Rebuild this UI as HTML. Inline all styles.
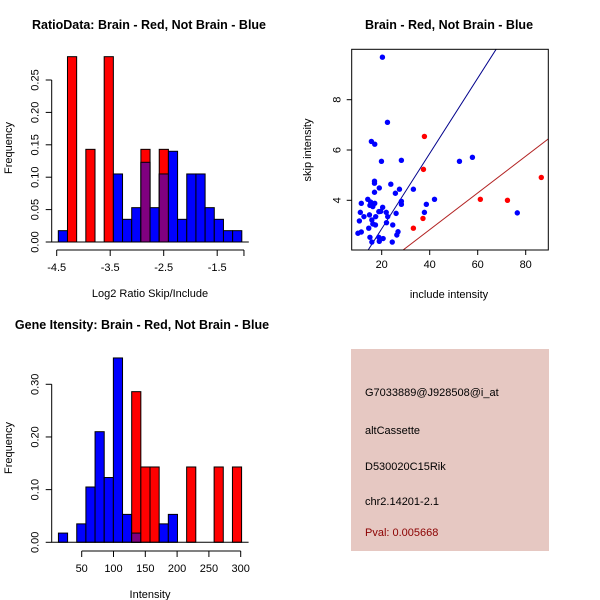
<!DOCTYPE html>
<html><head><meta charset="utf-8"><style>
html,body{margin:0;padding:0;background:#fff}
svg{display:block;font-family:"Liberation Sans",sans-serif}
</style></head><body>
<svg id="c" width="600" height="600" xmlns="http://www.w3.org/2000/svg"></svg>
<script>
// ---- Ratio histogram data ----
const ratioBinStart = -4.47;
const ratioBinWidth = 0.1715;
const ratioBlue = [0.0175,0,0,0,0,0,0.105,0.035,0.053,0.123,0.053,0.105,0.14,0.035,0.105,0.105,0.053,0.035,0.0175,0.0175];
const ratioRed  = [0,0.286,0,0.143,0,0.286,0,0,0,0.143,0,0.143,0,0,0,0,0,0,0,0];
const ratioXTicks = [-4.5,-3.5,-2.5,-1.5,-1];
const ratioYTicks = [0,0.05,0.10,0.15,0.20,0.25];
// ---- Intensity histogram data ----
const intBinStart = 13.4;
const intBinWidth = 14.4;
const intBlue = [0.0175,0,0.035,0.105,0.21,0.123,0.35,0.053,0.0175,0,0,0.035,0.053,0,0,0,0,0,0,0];
const intRed  = [0,0,0,0,0,0,0,0,0.286,0.143,0.143,0,0,0,0.143,0,0,0.143,0,0.143];
const intXTicks = [50,100,150,200,250,300];
const intYTicks = [0,0.10,0.20,0.30];
// ---- Scatter data ----
const blueX = [20.3,22.4,15.7,17.1,19.9,28.2,52.4,57.8,23.8,17.0,17.0,19.0,27.4,25.7,33.2,17.0,14.2,11.5,15.4,15.1,17.1,16.3,20.4,28.2,28.2,42.0,38.6,18.8,19.6,21.9,11.1,14.9,17.5,12.6,22.5,26.0,37.8,15.9,10.7,16.3,22.0,17.4,24.6,14.6,26.8,11.5,10.1,26.3,15.1,18.8,20.6,19.0,15.9,24.4,76.5];
const blueY = [9.69,7.10,6.34,6.23,5.55,5.59,5.55,5.71,4.64,4.76,4.68,4.49,4.44,4.28,4.44,4.32,4.04,3.88,3.93,3.80,3.88,3.75,3.72,3.96,3.84,4.04,3.84,3.55,3.56,3.52,3.52,3.42,3.35,3.35,3.35,3.48,3.52,3.22,3.18,3.06,3.11,3.02,3.02,2.89,2.75,2.74,2.69,2.62,2.53,2.53,2.48,2.37,2.34,2.34,3.50];
const redX = [37.8,37.4,61.1,72.4,86.5,37.2,33.2];
const redY = [6.54,5.23,4.04,4.00,4.91,3.28,2.89];
const blueLine = [0.1497,-0.126]; // slope, intercept
const redLine = [0.073,-0.087];
const scXTicks = [20,40,60,80];
const scYTicks = [4,6,8];

const svg = document.getElementById('c');
const NS = 'http://www.w3.org/2000/svg';
function mk(tag, attrs, parent){const e=document.createElementNS(NS,tag);for(const k in attrs)e.setAttribute(k,attrs[k]);(parent||svg).appendChild(e);return e;}
function txt(s,x,y,attrs,parent){const t=mk('text',Object.assign({x:x,y:y,'font-size':11,'text-anchor':'middle',fill:'#000'},attrs||{}),parent);t.textContent=s;return t;}

function hist(g, start, w, blue, red, xs, ys, xTicks, yTicks, axisY, hideLabels){
  for(let i=0;i<blue.length;i++){
    const x0=xs(start+i*w), x1=xs(start+(i+1)*w);
    const b=blue[i], r=red[i];
    if(b>0){const e=mk('rect',{x:x0,y:ys(b),width:x1-x0,height:ys(0)-ys(b),fill:'#0000ff',stroke:'#000','stroke-width':1},g);
      
      }
    if(r>0){const e=mk('rect',{x:x0,y:ys(r),width:x1-x0,height:ys(0)-ys(r),fill:'#ff0000',stroke:'#000','stroke-width':1},g);
      
      }
    if(b>0&&r>0){const m=Math.min(b,r);const e=mk('rect',{x:x0,y:ys(m),width:x1-x0,height:ys(0)-ys(m),fill:'#800080',stroke:'#000','stroke-width':1},g);
      
      }
  }
  mk('line',{x1:xs(start)-7,x2:xs(start+blue.length*w)+7,y1:ys(0),y2:ys(0),stroke:'#000'},g);
  const xa=mk('g',{},g);
  
  
  mk('line',{x1:xs(xTicks[0]),x2:xs(xTicks[xTicks.length-1]),y1:axisY,y2:axisY,stroke:'#000'},xa);
  xTicks.forEach(v=>{mk('line',{x1:xs(v),x2:xs(v),y1:axisY,y2:axisY+6,stroke:'#000'},xa);if(!hideLabels.includes(v))txt(String(v),xs(v),axisY+21,{},xa);});
  const ya=mk('g',{},g);
  
  
  const ax=51.7;
  mk('line',{x1:ax,x2:ax,y1:ys(yTicks[0]),y2:ys(yTicks[yTicks.length-1]),stroke:'#000'},ya);
  yTicks.forEach(v=>{mk('line',{x1:ax,x2:ax-6,y1:ys(v),y2:ys(v),stroke:'#000'},ya);txt(v.toFixed(2),0,0,{transform:`translate(${ax-13},${ys(v)}) rotate(-90)`},ya);});
}

// Plot 1
{
  const g=mk('g',{});
  const xs=v=>56.7+(v+4.5)*53.5, ys=v=>242-v*648;
  hist(g,ratioBinStart,ratioBinWidth,ratioBlue,ratioRed,xs,ys,ratioXTicks,ratioYTicks,250,[-1]);
  const t=txt('RatioData: Brain - Red, Not Brain - Blue',149,29,{'font-size':12.5,'font-weight':'bold'},g);
  const xl=txt('Log2 Ratio Skip/Include',150,297,{},g);
  const yl=txt('Frequency',0,0,{transform:'translate(12,148) rotate(-90)'},g);
}
// Plot 3
{
  const g=mk('g',{});
  const xs=v=>81.7+(v-50)*0.636, ys=v=>542.3-v*526.7;
  hist(g,intBinStart,intBinWidth,intBlue,intRed,xs,ys,intXTicks,intYTicks,551,[]);
  const t=txt('Gene Itensity: Brain - Red, Not Brain - Blue',142,329,{'font-size':12.5,'font-weight':'bold'},g);
  const xl=txt('Intensity',150,598,{},g);
  const yl=txt('Frequency',0,0,{transform:'translate(12,448) rotate(-90)'},g);
}

// Plot 2 scatter
{
  const g=mk('g',{});
  const L=351.7,R=548.3,T=49.3,B=250;
  const xs=v=>381.7+(v-20)*2.4, ys=v=>200.3-(v-4)*25.15;
  mk('defs',{},g).innerHTML='<clipPath id="cp"><rect x="351.7" y="49.3" width="196.6" height="200.7"/></clipPath>';
  const lg=mk('g',{'clip-path':'url(#cp)'},g);
  const x0=0,x1=100;
  const bl=mk('line',{x1:xs(x0),y1:ys(blueLine[0]*x0+blueLine[1]),x2:xs(x1),y2:ys(blueLine[0]*x1+blueLine[1]),stroke:'#00008b'},lg);
  
  const rl=mk('line',{x1:xs(x0),y1:ys(redLine[0]*x0+redLine[1]),x2:xs(x1),y2:ys(redLine[0]*x1+redLine[1]),stroke:'#b22222'},lg);
  
  for(let i=0;i<blueX.length;i++){const c=mk('circle',{cx:xs(blueX[i]),cy:ys(blueY[i]),r:2.7,fill:'#0000ff'},g);
    
    }
  for(let i=0;i<redX.length;i++){const c=mk('circle',{cx:xs(redX[i]),cy:ys(redY[i]),r:2.7,fill:'#ff0000'},g);
    
    }
  const box=mk('rect',{x:L,y:T,width:R-L,height:B-T,fill:'none',stroke:'#000'},g);
  
  scXTicks.forEach(v=>{mk('line',{x1:xs(v),x2:xs(v),y1:B,y2:B+5,stroke:'#000'},g);txt(String(v),xs(v),B+18,{},g);});
  scYTicks.forEach(v=>{mk('line',{x1:L,x2:L-5,y1:ys(v),y2:ys(v),stroke:'#000'},g);txt(String(v),0,0,{transform:`translate(${L-11},${ys(v)}) rotate(-90)`},g);});
  const t=txt('Brain - Red, Not Brain - Blue',449,29,{'font-size':12.5,'font-weight':'bold'},g);
  const xl=txt('include intensity',449,298,{},g);
  const yl=txt('skip intensity',0,0,{transform:'translate(311,150) rotate(-90)'},g);
}
// Info box
{
  const g=mk('g',{});
  mk('rect',{x:351,y:349,width:198,height:202,fill:'#e6c8c2'},g);
  const lines=[['G7033889@J928508@i_at',396,'#000','probe-id'],['altCassette',434,'#000','event-type'],['D530020C15Rik',470,'#000','gene-name'],['chr2.14201-2.1',505,'#000','location'],['Pval: 0.005668',536,'#8b0000','p-value']];
  lines.forEach(l=>{const t=txt(l[0],365,l[1],{'text-anchor':'start','font-size':11,fill:l[2]},g);});
}
</script>
</body></html>
